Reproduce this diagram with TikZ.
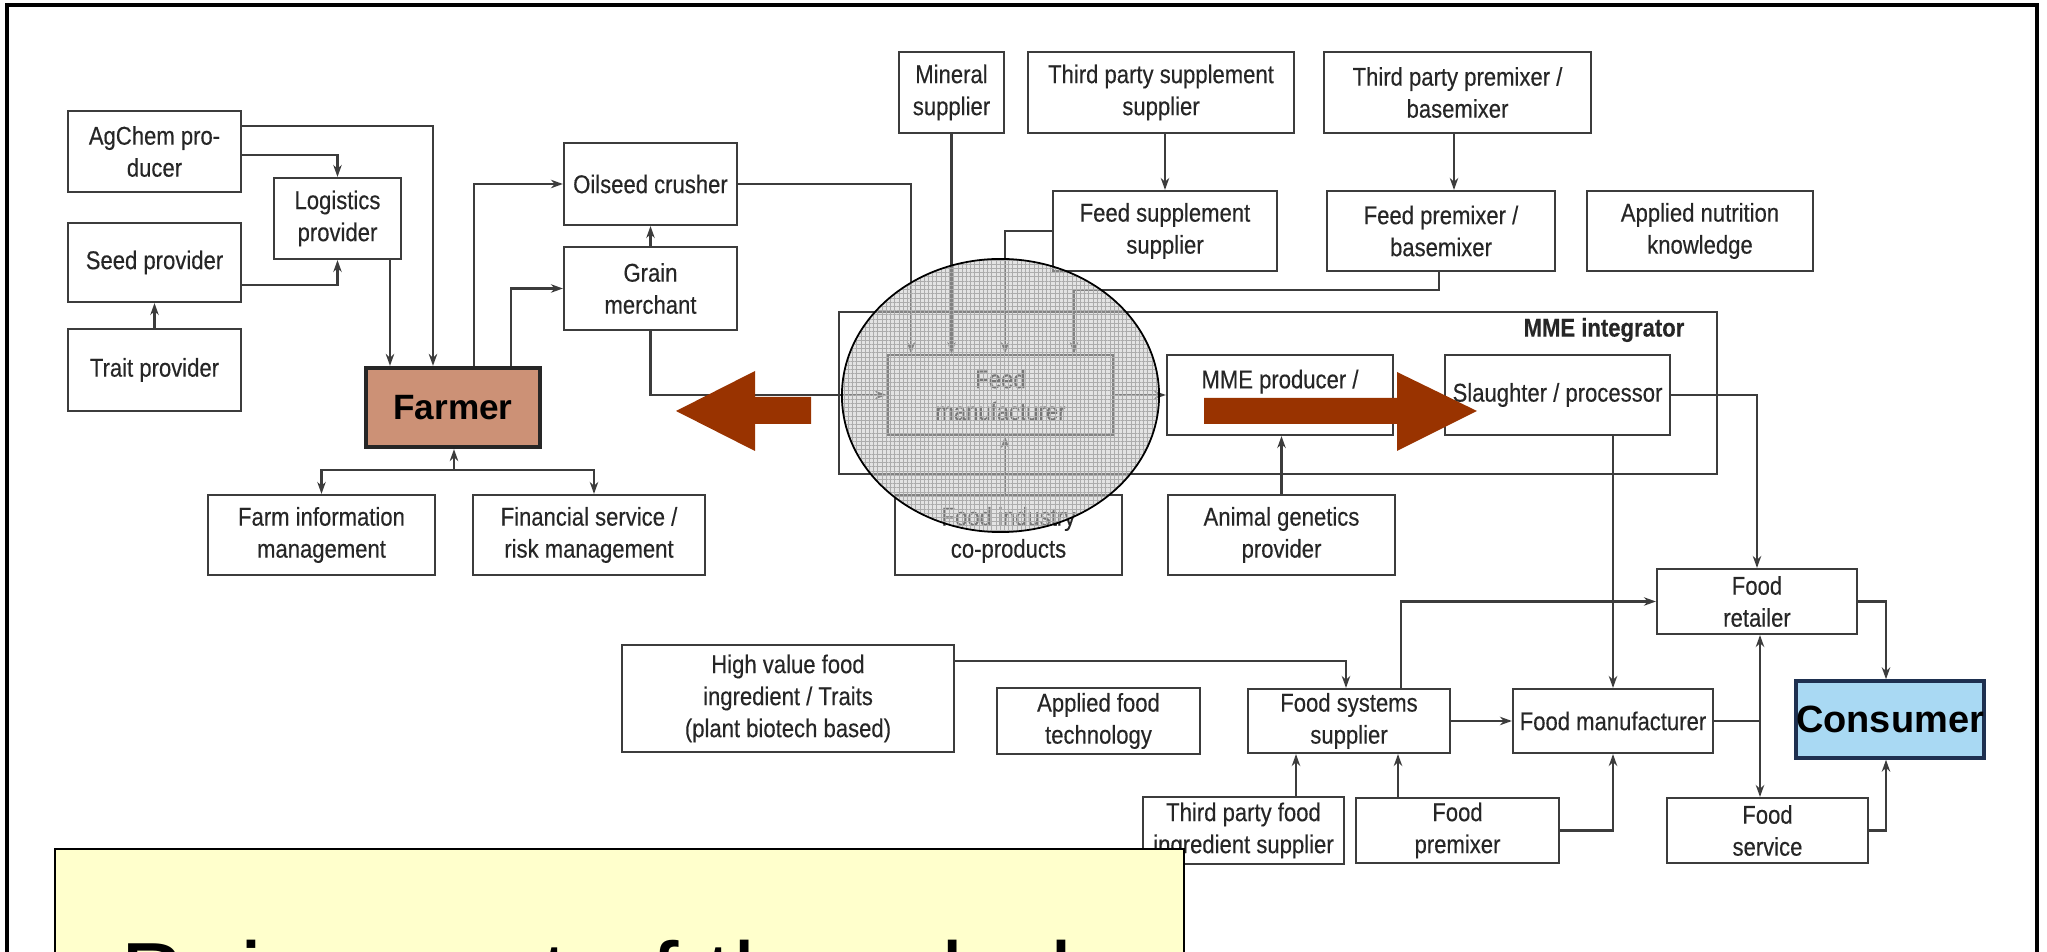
\documentclass[tikz,border=0pt]{standalone}
\usepackage{fontspec}
\setmainfont{Liberation Sans}
\newfontfamily\boxfont[FakeStretch=0.86,FakeBold=0.3]{Liberation Sans}
\usetikzlibrary{arrows.meta,patterns.meta}
\definecolor{boxline}{HTML}{3C3C3C}
\definecolor{boxtext}{HTML}{262626}
\definecolor{farmerfill}{HTML}{CC9176}
\definecolor{consumerfill}{HTML}{A9D9F3}
\definecolor{consumerline}{HTML}{1E3050}
\definecolor{arrowbrown}{HTML}{993300}
\definecolor{notefill}{HTML}{FFFFCC}
\definecolor{lensfill}{HTML}{C8C8C8}

\begin{document}
\begin{tikzpicture}[x=0.01cm,y=-0.01cm,
  >={Stealth[length=3.4pt,width=2.4pt]},
  box/.style 2 args={draw=boxline,line width=0.6pt,fill=white,align=center,inner sep=0pt,
    minimum width=#1,minimum height=#2,text=boxtext,font=\boxfont\fontsize{7.3}{9.1}\selectfont},
  farmerbox/.style={fill=farmerfill,draw=black!85,line width=1.2pt,text=black,
    font=\bfseries\fontsize{10}{12}\selectfont},
  consumerbox/.style={fill=consumerfill,draw=consumerline,line width=1pt,text=black,
    font=\bfseries\fontsize{10.8}{13}\selectfont},
  conn/.style={draw=boxline,line width=0.6pt},
  bigarrow/.style={fill=arrowbrown},
  notebox/.style={fill=notefill,draw=black,line width=0.8pt}]
\useasboundingbox (0,0) rectangle (2047,952);
\clip (0,0) rectangle (2047,952);
\fill[white] (0,0) rectangle (2047,952);
\draw[line width=1pt] (7,1000) -- (7,5) -- (2037,5) -- (2037,1000);

\node[draw=boxline,line width=0.6pt,minimum width=8.78cm,minimum height=1.62cm,inner sep=0pt] (integr) at (1278,393) {};
\node[font=\boxfont\bfseries\fontsize{7.3}{9.1}\selectfont,text=boxtext] (integrlbl) at (1604,330) {MME integrator};

\node[box={1.73cm}{0.81cm}] (agchem) at (154.5,151.5) {AgChem pro-\\ducer};
\node[box={1.27cm}{0.81cm}] (logist) at (337.5,218.5) {Logistics\\provider};
\node[box={1.73cm}{0.79cm}] (seed) at (154.5,262.5) {Seed provider};
\node[box={1.73cm}{0.82cm}] (trait) at (154.5,370) {Trait provider};
\node[box={1.74cm}{0.79cm},farmerbox] (farmer) at (453,407.5) {Farmer};
\node[box={1.73cm}{0.82cm}] (oilseed) at (650.5,184) {Oilseed crusher};
\node[box={1.73cm}{0.83cm}] (grain) at (650.5,288.5) {Grain\\merchant};
\node[box={1.05cm}{0.81cm}] (mineral) at (951.5,92.5) {Mineral\\supplier};
\node[box={2.66cm}{0.81cm}] (tpss) at (1161,92.5) {Third party supplement\\supplier};
\node[box={2.67cm}{0.81cm}] (tppb) at (1457.5,92.5) {Third party premixer /\\basemixer};
\node[box={2.24cm}{0.80cm}] (feedsupp) at (1165,231) {Feed supplement\\supplier};
\node[box={2.28cm}{0.80cm}] (feedprem) at (1441,231) {Feed premixer /\\basemixer};
\node[box={2.26cm}{0.80cm}] (nutrition) at (1700,231) {Applied nutrition\\knowledge};
\node[box={2.25cm}{0.80cm}] (feedman) at (1000.5,395) {Feed\\manufacturer};
\node[box={2.26cm}{0.80cm}] (mmeprod) at (1280,395) {MME producer /\\\mbox{}};
\node[box={2.25cm}{0.80cm}] (slaughter) at (1557.5,395) {Slaughter / processor};
\node[box={2.27cm}{0.80cm}] (farminfo) at (321.5,535) {Farm information\\management};
\node[box={2.32cm}{0.80cm}] (finance) at (589,535) {Financial service /\\risk management};
\node[box={2.27cm}{0.80cm}] (coprod) at (1008.5,535) {Food industry\\co-products};
\node[box={2.27cm}{0.80cm}] (genetics) at (1281.5,535) {Animal genetics\\provider};
\node[box={3.32cm}{1.07cm}] (highval) at (788,698.5) {High value food\\ingredient / Traits\\(plant biotech based)};
\node[box={2.03cm}{0.66cm}] (foodtech) at (1098.5,721) {Applied food\\technology};
\node[box={2.02cm}{0.64cm}] (foodsys) at (1349,721) {Food systems\\supplier};
\node[box={2.00cm}{0.64cm}] (foodman) at (1613,721) {Food manufacturer};
\node[box={2.00cm}{0.65cm}] (retailer) at (1757,601.5) {Food\\retailer};
\node[box={2.01cm}{0.67cm}] (tpfood) at (1243.5,830.5) {Third party food\\ingredient supplier};
\node[box={2.03cm}{0.65cm}] (foodprem) at (1457.5,830.5) {Food\\premixer};
\node[box={2.01cm}{0.65cm}] (foodserv) at (1767.5,830.5) {Food\\service};
\node[box={1.72cm}{0.77cm},consumerbox] (consumer) at (1890,719.5) {Consumer};

\draw[conn,->] (agchem.east |- 0,126) -| (433,0 |- farmer.north);
\draw[conn,->] (agchem.east |- 0,155) -| (logist.north);
\draw[conn,->] (seed.east |- 0,285) -| (logist.south);
\draw[conn,->] (trait.north) -- (seed.south);
\draw[conn,->] (390,0 |- logist.south) -- (390,0 |- farmer.north);
\draw[conn,->] (474,0 |- farmer.north) |- (oilseed.west);
\draw[conn,->] (511,0 |- farmer.north) |- (grain.west);
\draw[conn,->] (grain.north) -- (oilseed.south);
\draw[conn,->] (grain.south) |- (feedman.west);
\draw[conn,->] (oilseed.east) -| (911,0 |- feedman.north);
\draw[conn,->] (mineral.south) -- (mineral.south |- feedman.north);
\draw[conn,->] (feedsupp.west) -| (1005,0 |- feedman.north);
\draw[conn,->] (1439,0 |- feedprem.south) |- (1074,290) -- (1074,0 |- feedman.north);
\draw[conn,->] (feedsupp.north |- tpss.south) -- (feedsupp.north);
\draw[conn,->] (1454,0 |- tppb.south) -- (1454,0 |- feedprem.north);
\draw[conn,->] (feedman.east) -- (mmeprod.west);
\draw[conn,->] (1005,0 |- coprod.north) -- (1005,0 |- feedman.south);
\draw[conn,->] (genetics.north) -- (genetics.north |- mmeprod.south);
\draw[conn,->] (slaughter.east) -| (retailer.north);
\draw[conn,->] (foodman.north |- slaughter.south) -- (foodman.north);
\coordinate (farmjoin) at (454,470);
\draw[conn,->] (farmjoin) -- (farmjoin |- farmer.south);
\draw[conn,<->] (farminfo.north) |- (farmjoin) -| (594,0 |- finance.north);
\draw[conn,->] (highval.east |- 0,661) -| (1346,0 |- foodsys.north);
\draw[conn,->] (1401,0 |- foodsys.north) |- (retailer.west);
\draw[conn,->] (foodsys.east) -- (foodman.west);
\coordinate (foodjoin) at (1760,721);
\draw[conn] (foodman.east) -- (foodjoin);
\draw[conn,<->] (foodjoin |- retailer.south) -- (foodjoin |- foodserv.north);
\draw[conn,->] (retailer.east) -| (1886,0 |- consumer.north);
\draw[conn,->] (foodserv.east) -| (1886,0 |- consumer.south);
\draw[conn,->] (1296,0 |- tpfood.north) -- (1296,0 |- foodsys.south);
\draw[conn,->] (1398,0 |- foodprem.north) -- (1398,0 |- foodsys.south);
\draw[conn,->] (foodprem.east) -| (foodman.south);

\fill[lensfill,fill opacity=0.5] (1000.5,395.5) ellipse [x radius=1.585cm,y radius=1.365cm];
\path[pattern={Hatch[distance=1.2pt,angle=0,line width=0.2pt]},pattern color=gray!65] (1000.5,395.5) ellipse [x radius=1.585cm,y radius=1.365cm];
\draw[line width=0.5pt] (1000.5,395.5) ellipse [x radius=1.585cm,y radius=1.365cm];

\fill[bigarrow] (676,411) -- (755,371) -- (755,397) -- (811,397) -- (811,424) -- (755,424) -- (755,451) -- cycle;
\fill[bigarrow] (1204,398) -- (1397,398) -- (1397,372) -- (1477,411) -- (1397,451) -- (1397,424) -- (1204,424) -- cycle;

\draw[notebox] (55,849) rectangle (1184,1000);
\node[font=\fontsize{28}{33}\selectfont,anchor=base,inner sep=0pt] (motto) at (624,1012) {Being part of the whole};
\end{tikzpicture}
\end{document}
